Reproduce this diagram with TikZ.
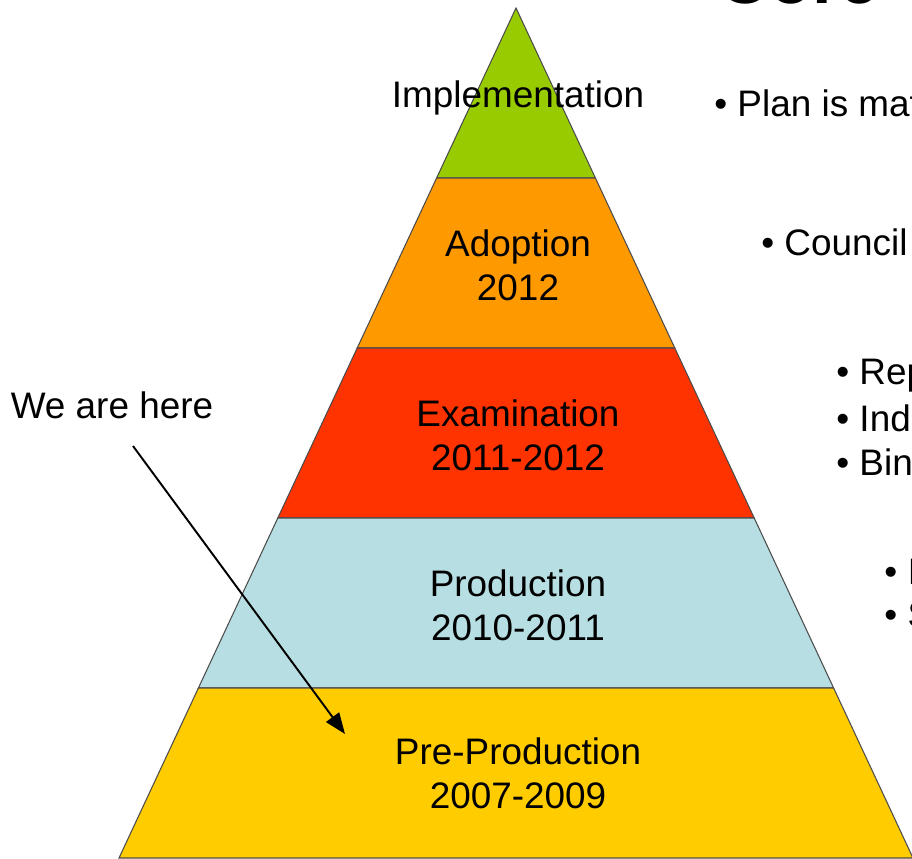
\documentclass[tikz,border=0pt]{standalone}
\usepackage{fontspec}
\setmainfont{Liberation Sans}
\usetikzlibrary{calc,arrows.meta}
\definecolor{implgreen}{RGB}{153,204,0}
\definecolor{adoptorange}{RGB}{255,153,0}
\definecolor{examred}{RGB}{255,51,0}
\definecolor{prodblue}{RGB}{183,222,226}
\definecolor{preyellow}{RGB}{255,204,0}

\begin{document}
\begin{tikzpicture}[x=0.02cm, y=-0.02cm,
	band/.style={draw=black!70, line width=0.6pt},
	lbl/.style={font=\fontsize{21}{25}\selectfont, align=center},
	bullet/.style={font=\fontsize{21}{25}\selectfont, anchor=west, inner sep=0pt}]
		%%%%% START %%%%%
		\useasboundingbox (0,0) rectangle (912,858);
		\clip (0,0) rectangle (912,858);
		
		\coordinate (apex) at (516,8);
		\coordinate (bl) at (119,858);
		\coordinate (br) at (913,858);
		
		\foreach \t/\b/\col in {0/0.2/implgreen, 0.2/0.4/adoptorange, 0.4/0.6/examred, 0.6/0.8/prodblue, 0.8/1/preyellow}
			\draw[band, fill=\col] ($(apex)!\t!(bl)$) -- ($(apex)!\b!(bl)$) -- ($(apex)!\b!(br)$) -- ($(apex)!\t!(br)$) -- cycle;
		
		\node[lbl] (impl) at (518,98) {Implementation};
		\node[lbl] (adopt) at (518,265) {Adoption\\2012};
		\node[lbl] (exam) at (518,435) {Examination\\2011-2012};
		\node[lbl] (prod) at (518,605) {Production\\2010-2011};
		\node[lbl] (preprod) at (518,773) {Pre-Production\\2007-2009};
		
		\node[font=\bfseries\fontsize{40}{48}\selectfont, anchor=base west, inner sep=0pt] (title) at (718,4) {Core};
		
		\node[bullet] (plan) at (714,103) {• Plan is mat};
		\node[bullet] (council) at (761,242) {• Council};
		\node[bullet] (rep) at (836,376) {• Rep};
		\node[bullet] (ind) at (836,418) {• Ind};
		\node[bullet] (bin) at (836,462) {• Bin};
		\node[bullet] (prodone) at (884,572) {• I};
		\node[bullet] (prodtwo) at (884,615) {• S};
		
		\node[lbl] (here) at (112,405) {We are here};
		\coordinate (herefrom) at (133,446);
		\coordinate (herepoint) at (345,734);
		\draw[line width=1.1pt, -{Triangle[length=0.42cm, width=0.32cm]}] (herefrom) -- (herepoint);
		%%%%% END %%%%%
\end{tikzpicture}
\end{document}
